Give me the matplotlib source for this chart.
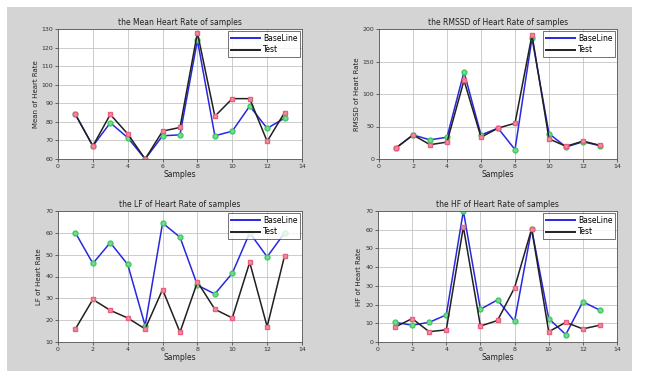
import matplotlib
matplotlib.use("Agg")
import matplotlib.pyplot as plt
from matplotlib.patches import Rectangle

samples = list(range(1, 14))

mean_base = [84, 67, 79.5, 71.5, 60, 72.5, 73, 124, 72.5, 75, 88.5, 76.5, 82]
mean_test = [84, 67, 84, 73.5, 60, 75, 77, 128, 83, 92.5, 92.5, 69.5, 85]

rmssd_base = [17, 37, 29.5, 33.5, 134, 37, 47.5, 14.5, 186, 39, 18.5, 26.5, 20.5]
rmssd_test = [17, 37, 22, 26, 121, 33.5, 47.5, 55, 191, 31, 19.5, 27.5, 21]

lf_base = [60, 46, 55.5, 45.5, 17.5, 64.5, 58, 36, 32, 41.5, 60, 49, 60]
lf_test = [16, 29.5, 24.5, 21, 16, 34, 14.5, 37.5, 25, 21, 46.5, 17, 49.5]

hf_base = [10.5, 9, 10.5, 14.5, 70, 17.5, 22.5, 11, 60.5, 12.5, 4, 21.5, 17]
hf_test = [8, 12.5, 5.5, 6.5, 61.5, 8.5, 11.5, 29, 60.5, 5.5, 10.5, 7, 9]

panels = [
    ("the Mean Heart Rate of samples", "Mean of Heart Rate", mean_base, mean_test, (60, 130), list(range(60, 131, 10))),
    ("the RMSSD of Heart Rate of samples", "RMSSD of Heart Rate", rmssd_base, rmssd_test, (0, 200), list(range(0, 201, 50))),
    ("the LF of Heart Rate of samples", "LF of Heart Rate", lf_base, lf_test, (10, 70), list(range(10, 71, 10))),
    ("the HF of Heart Rate of samples", "HF of Heart Rate", hf_base, hf_test, (0, 70), list(range(0, 71, 10))),
]

xticks = list(range(0, 15, 2))

W, H = 651, 371
fig = plt.figure(figsize=(W / 100, H / 100), dpi=100, facecolor="white")
fig.patches.append(Rectangle((7 / W, 0), (632 - 7) / W, 1 - 7 / H,
                             transform=fig.transFigure, facecolor="#d4d4d4",
                             edgecolor="none", zorder=-10))

boxes = [
    (58, 29, 302, 159),
    (379, 29, 617, 159),
    (58, 211, 302, 342),
    (378, 211, 617, 342),
]

for (title, ylabel, base, test, ylim, yticks), (l, t, r, b) in zip(panels, boxes):
    ax = fig.add_axes([l / W, 1 - b / H, (r - l) / W, (b - t) / H])
    ax.set_facecolor("white")
    ax.plot(samples, base, color="#2828e0", lw=1.1, label="BaseLine",
            marker="o", markersize=3.5, markerfacecolor="#70dc90", markeredgecolor="#40c860")
    ax.plot(samples, test, color="#202020", lw=1.1, label="Test",
            marker="s", markersize=3.5, markerfacecolor="#f090a0", markeredgecolor="#e86080")
    ax.set_xlim(0, 14)
    ax.set_ylim(*ylim)
    ax.set_xticks(xticks)
    ax.set_yticks(yticks)
    ax.grid(True, color="#c4c4c4", lw=0.6, linestyle="-")
    ax.tick_params(labelsize=4.5, length=2, width=0.5, colors="#333333", pad=1.5)
    for s in ax.spines.values():
        s.set_linewidth(0.6)
        s.set_color("#555555")
    ax.set_title(title, fontsize=5.5, color="#222222", pad=3)
    ax.set_xlabel("Samples", fontsize=5.5, color="#222222", labelpad=1)
    ax.set_ylabel(ylabel, fontsize=5, color="#222222", labelpad=2)
    leg = ax.legend(loc="upper right", fontsize=5.5, frameon=True, fancybox=False,
                    borderpad=0.4, handlelength=3.8, labelspacing=0.35,
                    borderaxespad=0.2, handletextpad=0.4)
    leg.get_frame().set_edgecolor("#333333")
    leg.get_frame().set_linewidth(0.6)
    for line in leg.get_lines():
        line.set_marker("")
        line.set_linewidth(1.4)

fig.savefig("out.png", dpi=100, facecolor=fig.get_facecolor())
